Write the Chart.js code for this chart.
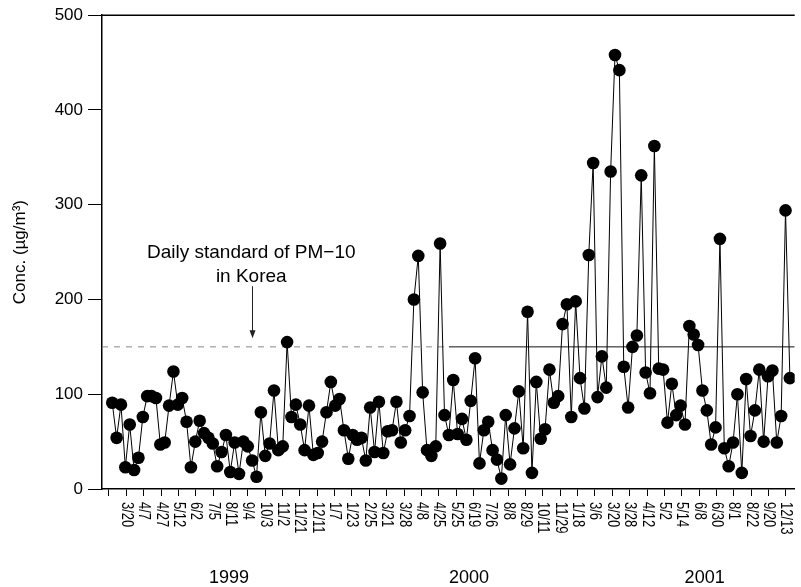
<!DOCTYPE html>
<html><head><meta charset="utf-8">
<script src="https://cdn.jsdelivr.net/npm/chart.js@4"></script>
<style>html,body{margin:0;padding:0;background:#fff;} canvas{display:block;}</style>
</head><body>
<canvas id="c" width="801" height="587"></canvas>
<script>
// ---- data ----
const DATE_LABELS = ['', '3/20', '4/7', '4/27', '5/12', '6/2', '7/5', '8/11', '9/4', '10/3', '11/2', '11/21', '12/11',
  '1/7', '1/23', '2/25', '3/21', '3/28', '4/8', '4/25', '5/25', '6/19', '7/26', '8/8', '8/29', '10/11', '11/29',
  '1/18', '3/6', '3/20', '3/28', '4/12', '5/2', '5/14', '6/8', '6/30', '8/1', '8/22', '9/20', '12/13'];
const YEAR_LABELS = ['1999', '2000', '2001'];
const PM10 = [
  91, 54, 89, 23, 68, 20, 33, 76, 98, 98,
  96, 47, 49, 88, 124, 89, 96, 71, 23, 50,
  72, 59, 54, 48, 24, 39, 57, 18, 49, 16,
  50, 45, 30, 13, 81, 35, 48, 104, 41, 45,
  155, 76, 89, 68, 41, 88, 36, 38, 50, 81,
  113, 88, 95, 62, 32, 57, 52, 54, 30, 86,
  39, 92, 38, 61, 62, 92, 49, 62, 77, 200,
  246, 102, 41, 35, 45, 259, 78, 57, 115, 58,
  74, 52, 93, 138, 27, 62, 71, 41, 31, 11,
  78, 26, 64, 103, 43, 187, 17, 113, 53, 63,
  126, 91, 98, 174, 195, 76, 198, 117, 85, 247,
  344, 97, 140, 107, 335, 458, 442, 129, 86, 150,
  162, 331, 123, 101, 362, 127, 126, 70, 111, 78,
  88, 68, 172, 163, 152, 104, 83, 47, 65, 264,
  43, 24, 49, 100, 17, 116, 56, 83, 126, 50,
  119, 125, 49, 77, 294, 117];
const STANDARD = 150;
const ANNOT_LINES = ['Daily standard of PM\u221210', 'in Korea'];
const Y_TITLE = 'Conc. (\u00b5g/m\u00b3)';

// ---- layout (axis units) ----
const X_MIN = -2.34, X_MAX = 156.1;
const TICK_START = -0.75, TICK_STEP = 3.97;
const YEAR_POS = [26.7, 81.6, 135.5];
const DASH_END = 77;
const ANNOT = { x: 31.8, y1: 244, y2: 218, arrowX: 32.0, arrowTop: 214, arrowTip: 159 };
const FONT = "'Liberation Sans', Arial, Helvetica, sans-serif";

const seriesPoints = PM10.map((v, i) => ({ x: i, y: v }));

const overlay = {
  id: 'overlay',
  afterDraw(chart) {
    const { ctx, chartArea: a, scales: { x, y } } = chart;
    ctx.save();
    ctx.strokeStyle = '#000';
    ctx.lineWidth = 1.5;
    ctx.beginPath(); ctx.moveTo(a.left, a.top); ctx.lineTo(a.right, a.top); ctx.stroke();

    ctx.fillStyle = '#000';
    ctx.font = '13px ' + FONT;
    ctx.textAlign = 'left';
    ctx.textBaseline = 'middle';
    x.ticks.forEach((t, k) => {
      const lbl = DATE_LABELS[k];
      if (!lbl) return;
      const px = x.getPixelForValue(t.value);
      ctx.save();
      ctx.translate(px, a.bottom + 13);
      ctx.rotate(Math.PI / 2);
      ctx.scale(1, 1.25);
      ctx.fillText(lbl, 0, 0);
      ctx.restore();
    });

    ctx.font = '18px ' + FONT;
    ctx.textAlign = 'center';
    ctx.textBaseline = 'alphabetic';
    YEAR_LABELS.forEach((l, i) => ctx.fillText(l, x.getPixelForValue(YEAR_POS[i]), a.bottom + 94));

    ctx.font = '19px ' + FONT;
    ctx.fillText(ANNOT_LINES[0], x.getPixelForValue(ANNOT.x), y.getPixelForValue(ANNOT.y1));
    ctx.fillText(ANNOT_LINES[1], x.getPixelForValue(ANNOT.x), y.getPixelForValue(ANNOT.y2));

    const ax = Math.round(x.getPixelForValue(ANNOT.arrowX)) + 0.5;
    const at = y.getPixelForValue(ANNOT.arrowTop), ab = y.getPixelForValue(ANNOT.arrowTip);
    ctx.lineWidth = 1;
    ctx.strokeStyle = '#222';
    ctx.beginPath(); ctx.moveTo(ax, at); ctx.lineTo(ax, ab - 6); ctx.stroke();
    ctx.fillStyle = '#222';
    ctx.beginPath(); ctx.moveTo(ax - 3, ab - 8); ctx.lineTo(ax + 3, ab - 8); ctx.lineTo(ax, ab); ctx.closePath(); ctx.fill();
    ctx.restore();
  }
};

new Chart(document.getElementById('c'), {
  type: 'line',
  data: {
    datasets: [
      {
        data: seriesPoints,
        borderColor: '#000',
        borderWidth: 1,
        pointRadius: 6.3,
        pointBackgroundColor: '#000',
        pointBorderWidth: 0,
        tension: 0,
        order: 0
      },
      {
        data: [{ x: X_MIN, y: STANDARD }, { x: DASH_END, y: STANDARD }, { x: X_MAX, y: STANDARD }],
        borderWidth: 1,
        borderColor: '#111',
        pointRadius: 0,
        segment: {
          borderDash: c => c.p0DataIndex === 0 ? [6, 6] : undefined,
          borderColor: c => c.p0DataIndex === 0 ? '#888' : '#111'
        },
        order: 1
      }
    ]
  },
  options: {
    responsive: false,
    animation: false,
    devicePixelRatio: 1,
    layout: { padding: { top: 14, right: 1, left: 0, bottom: 0 } },
    plugins: { legend: { display: false }, tooltip: { enabled: false } },
    scales: {
      x: {
        type: 'linear',
        min: X_MIN,
        max: X_MAX,
        afterBuildTicks: s => { s.ticks = DATE_LABELS.map((_, k) => ({ value: TICK_START + k * TICK_STEP })); },
        afterFit: s => { s.height = 98; },
        ticks: { display: false, autoSkip: false },
        grid: { drawOnChartArea: false, drawTicks: true, tickLength: 7, color: '#000', lineWidth: 1 },
        border: { display: true, color: '#000', width: 1.5 }
      },
      y: {
        min: 0,
        max: 500,
        afterBuildTicks: s => { s.ticks = [0, 100, 200, 300, 400, 500].map(v => ({ value: v })); },
        afterFit: s => { s.width = 102; },
        ticks: { color: '#000', padding: 5, font: { family: FONT, size: 17 } },
        grid: { drawOnChartArea: false, drawTicks: true, tickLength: 14, color: '#000', lineWidth: 1 },
        border: { display: true, color: '#000', width: 1.5 },
        title: { display: true, text: Y_TITLE, color: '#000', font: { family: FONT, size: 17 }, padding: { top: 10, bottom: 0 } }
      }
    }
  },
  plugins: [overlay]
});
</script>
</body></html>
